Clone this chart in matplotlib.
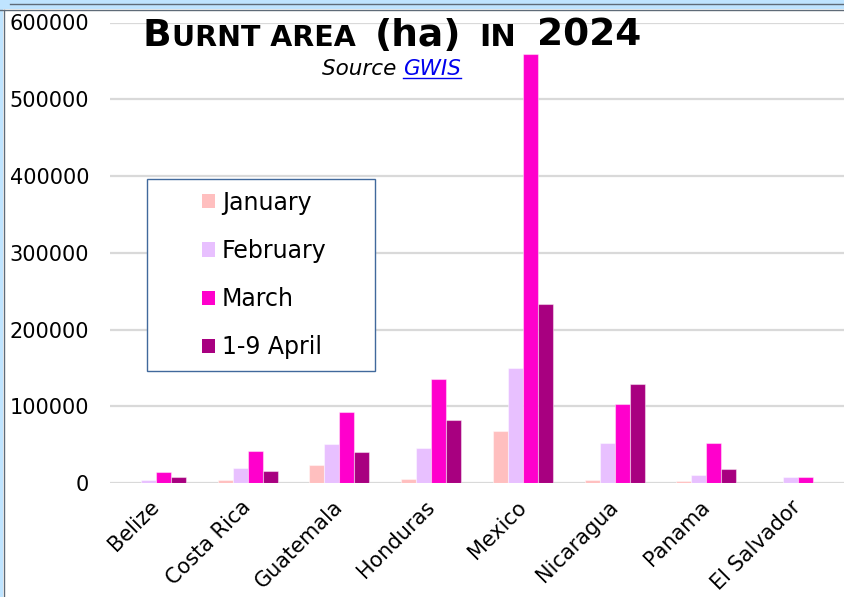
import numpy as np
import matplotlib
matplotlib.use("Agg")
import matplotlib.pyplot as plt
from matplotlib.patches import Rectangle

# Burnt area (ha) per country
countries = ["Belize", "Costa Rica", "Guatemala", "Honduras", "Mexico",
             "Nicaragua", "Panama", "El Salvador"]
january = [0, 4300, 23900, 5200, 67200, 4400, 2600, 0]
february = [3900, 19000, 51300, 45300, 149500, 52300, 11000, 7400]
march = [14700, 41800, 93100, 135000, 559000, 102900, 51500, 7400]
april = [7800, 15700, 40900, 81500, 233000, 129400, 18800, 0]

series_labels = ["January", "February", "March", "1-9 April"]
series_colors = ["#FFBFBF", "#E8C0FF", "#FF00CC", "#A80080"]
yticks = [0, 100000, 200000, 300000, 400000, 500000, 600000]

W, H = 844, 597
fig = plt.figure(figsize=(W / 100, H / 100), dpi=100)
fig.patch.set_facecolor("white")

ax = fig.add_axes([110 / W, 1 - 483 / H, (W - 110) / W, (483 - 22.5) / H])
ax.set_facecolor("white")

x = np.arange(len(countries))
bw = 0.163
all_series = [january, february, march, april]
for i, (vals, lab, col) in enumerate(zip(all_series, series_labels, series_colors)):
    ax.bar(x + (i - 1.5) * bw, vals, width=bw, color=col, label=lab,
           edgecolor=(1, 1, 1, 0.45), linewidth=0.8, zorder=3)

ax.set_xlim(-0.5, len(countries) - 0.5)
ax.set_ylim(0, 600000)
ax.set_yticks(yticks)
ax.set_yticklabels([str(v) for v in yticks])
ax.yaxis.grid(True, color="#D9D9D9", linewidth=1.6, zorder=0)
ax.set_axisbelow(True)
for sp in ax.spines.values():
    sp.set_visible(False)
ax.tick_params(axis="y", length=0, pad=15, labelsize=15)
ax.tick_params(axis="x", length=0, pad=15)
ax.set_xticks(x)
ax.set_xticklabels(countries, rotation=45, ha="right", va="center",
                   rotation_mode="anchor", fontsize=15)

# legend: frame drawn by hand, entries by matplotlib
lx0, ly0, lx1, ly1 = 147, 179, 375, 371
fig.patches.append(Rectangle((lx0 / W, 1 - ly1 / H), (lx1 - lx0) / W, (ly1 - ly0) / H,
                             transform=fig.transFigure, facecolor="white",
                             edgecolor="#41699C", linewidth=1.0, zorder=5))
leg = fig.legend(loc="center", bbox_to_anchor=((lx0 + lx1) / 2 / W + 0.004, 1 - (ly0 + ly1) / 2 / H),
                 frameon=False, fontsize=17, handlelength=0.55, handleheight=0.55,
                 handletextpad=0.3, labelspacing=1.03)
leg.set_zorder(6)
for h in leg.legend_handles:
    h.set_edgecolor("none")

# small-caps title built piece by piece
parts = [("B", 27, 143), ("URNT AREA", 20.5, 172), ("(ha)", 27, 375),
         ("IN", 22, 479), ("2024", 27, 537)]
for s, size, xs in parts:
    fig.text(xs / W, 1 - 46 / H, s, fontsize=size, fontweight="bold",
             va="baseline", ha="left")

renderer = fig.canvas.get_renderer()
t1 = fig.text(322 / W, 1 - 75 / H, "Source ", fontsize=15.5, style="italic",
              va="baseline", ha="left")
x1 = t1.get_window_extent(renderer).x1
t2 = fig.text(x1 / W, 1 - 75 / H, "GWIS", fontsize=15.5, style="italic",
              color="#0000EE", va="baseline", ha="left")
bb = t2.get_window_extent(renderer)
fig.add_artist(plt.Line2D([bb.x0 / W, bb.x1 / W], [(H - 78) / H, (H - 78) / H],
                          color="#0000EE", linewidth=1.0, transform=fig.transFigure))

# window-style border at top and left
frame_blue = "#BFE4FF"
frame_dark = "#5F6B78"
fig.patches.append(Rectangle((0, 1 - 9 / H), 1, 9 / H, transform=fig.transFigure,
                             facecolor=frame_blue, edgecolor="none", zorder=10))
fig.patches.append(Rectangle((0, 0), 3 / W, 1, transform=fig.transFigure,
                             facecolor=frame_blue, edgecolor="none", zorder=10))
fig.add_artist(plt.Line2D([0, 1], [1 - 9.5 / H, 1 - 9.5 / H], color=frame_dark,
                          linewidth=1.0, transform=fig.transFigure, zorder=11))
fig.add_artist(plt.Line2D([10 / W, 1], [1 - 3.5 / H, 1 - 3.5 / H], color=frame_dark,
                          linewidth=1.0, transform=fig.transFigure, zorder=11))
fig.add_artist(plt.Line2D([3.5 / W, 3.5 / W], [0, 1 - 9.5 / H], color=frame_dark,
                          linewidth=1.0, transform=fig.transFigure, zorder=11))

fig.savefig("out.png", dpi=100)
